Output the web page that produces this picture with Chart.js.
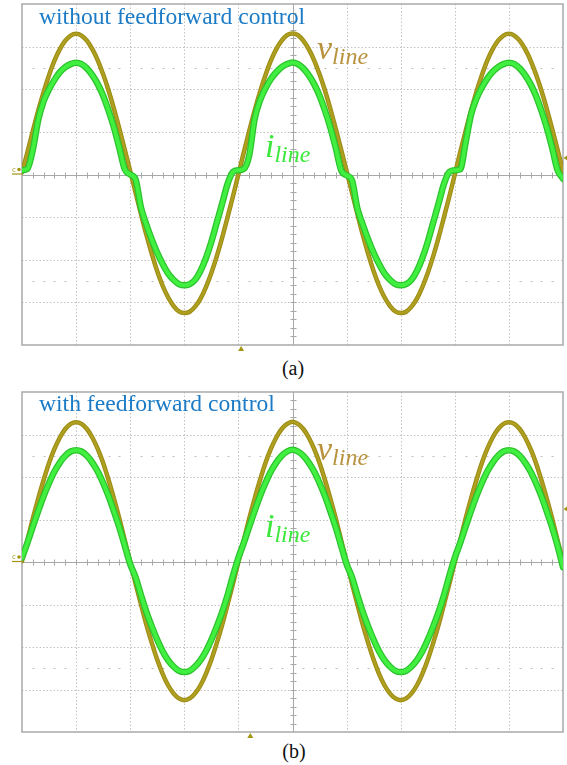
<!DOCTYPE html>
<html>
<head>
<meta charset="utf-8">
<script src="https://cdn.jsdelivr.net/npm/chart.js@4.4.0/dist/chart.umd.min.js"></script>
<style>
  html, body { margin: 0; padding: 0; background: #fff; }
  body { width: 567px; height: 765px; position: relative; overflow: hidden; font-family: 'Liberation Serif', 'Times New Roman', serif; }
  .panel { position: absolute; left: 0; width: 567px; height: 352px; }
  .title { position: absolute; font-family: 'Liberation Serif', serif; font-size: 23.6px; line-height: 1; color: #1b7bc6; white-space: nowrap; }
  .sym { position: absolute; font-family: 'Liberation Serif', serif; font-style: italic; font-size: 34px; line-height: 1; white-space: nowrap; }
  .sym span { font-size: 24px; position: relative; top: 5px; }
  .vsym { color: #b8923c; }
  .isym { color: #3be83b; }
  .cap { position: absolute; font-family: 'Liberation Serif', serif; width: 60px; text-align: center; font-size: 20px; line-height: 1; color: #111; }
</style>
</head>
<body>
<div class="panel" style="top:0"><canvas id="scopeA" width="567" height="352"></canvas></div>
<div class="panel" style="top:388px"><canvas id="scopeB" width="567" height="352"></canvas></div>

<div class="title" style="left:39px; top:5.3px">without feedforward control</div>
<div class="sym vsym" style="left:317px; top:30.5px">v<span>line</span></div>
<div class="sym isym" style="left:265px; top:128.5px">i<span>line</span></div>
<div class="cap" style="left:263px; top:358.3px">(a)</div>

<div class="title" style="left:39px; top:392.3px">with feedforward control</div>
<div class="sym vsym" style="left:317px; top:431.5px">v<span>line</span></div>
<div class="sym isym" style="left:265px; top:508.5px">i<span>line</span></div>
<div class="cap" style="left:264px; top:741.3px">(b)</div>

<script>
// Time base: horizontal divisions (10 div across the screen), one sample every 0.1 div
const TIME_DIV = [
  0, 0.1, 0.2, 0.3, 0.4, 0.5, 0.6, 0.7, 0.8, 0.9,
  1, 1.1, 1.2, 1.3, 1.4, 1.5, 1.6, 1.7, 1.8, 1.9,
  2, 2.1, 2.2, 2.3, 2.4, 2.5, 2.6, 2.7, 2.8, 2.9,
  3, 3.1, 3.2, 3.3, 3.4, 3.5, 3.6, 3.7, 3.8, 3.9,
  4, 4.1, 4.2, 4.3, 4.4, 4.5, 4.6, 4.7, 4.8, 4.9,
  5, 5.1, 5.2, 5.3, 5.4, 5.5, 5.6, 5.7, 5.8, 5.9,
  6, 6.1, 6.2, 6.3, 6.4, 6.5, 6.6, 6.7, 6.8, 6.9,
  7, 7.1, 7.2, 7.3, 7.4, 7.5, 7.6, 7.7, 7.8, 7.9,
  8, 8.1, 8.2, 8.3, 8.4, 8.5, 8.6, 8.7, 8.8, 8.9,
  9, 9.1, 9.2, 9.3, 9.4, 9.5, 9.6, 9.7, 9.8, 9.9,
  10
];

// (a) without feedforward: line voltage, in vertical divisions
const V_LINE_A = [
  0.05, 0.52, 1.02, 1.50, 1.94, 2.33, 2.67, 2.94, 3.14, 3.26,
  3.30, 3.26, 3.14, 2.94, 2.68, 2.35, 1.97, 1.54, 1.07, 0.58,
  0.08, -0.43, -0.93, -1.42, -1.87, -2.27, -2.61, -2.88, -3.08, -3.21,
  -3.25, -3.22, -3.10, -2.91, -2.64, -2.31, -1.92, -1.48, -1.00, -0.51,
  0.00, 0.52, 1.02, 1.50, 1.94, 2.33, 2.67, 2.94, 3.14, 3.27,
  3.31, 3.27, 3.14, 2.94, 2.68, 2.35, 1.97, 1.54, 1.07, 0.58,
  0.08, -0.43, -0.93, -1.42, -1.87, -2.27, -2.61, -2.88, -3.08, -3.21,
  -3.25, -3.22, -3.10, -2.91, -2.64, -2.31, -1.92, -1.48, -1.00, -0.51,
  0.00, 0.52, 1.02, 1.50, 1.94, 2.33, 2.67, 2.94, 3.14, 3.26,
  3.30, 3.26, 3.14, 2.94, 2.68, 2.35, 1.97, 1.54, 1.07, 0.58,
  0.08
];

// (a) without feedforward: line current, with the flat spots around each zero crossing
const I_LINE_A = [
  0.10, 0.13, 0.58, 1.28, 1.72, 2.00, 2.22, 2.40, 2.52, 2.59,
  2.62, 2.59, 2.49, 2.33, 2.12, 1.85, 1.50, 1.10, 0.62, 0.12,
  0.00, -0.12, -0.78, -1.18, -1.53, -1.84, -2.10, -2.32, -2.47, -2.57,
  -2.60, -2.57, -2.47, -2.26, -1.96, -1.58, -1.13, -0.68, -0.22, 0.06,
  0.10, 0.13, 0.45, 1.30, 1.74, 2.02, 2.24, 2.40, 2.52, 2.59,
  2.63, 2.59, 2.49, 2.33, 2.12, 1.85, 1.50, 1.10, 0.62, 0.10,
  -0.02, -0.14, -0.80, -1.18, -1.53, -1.84, -2.10, -2.32, -2.47, -2.57,
  -2.60, -2.57, -2.47, -2.26, -1.96, -1.58, -1.13, -0.68, -0.22, 0.06,
  0.10, 0.12, 0.75, 1.40, 1.78, 2.04, 2.25, 2.41, 2.52, 2.59,
  2.62, 2.59, 2.49, 2.33, 2.12, 1.85, 1.50, 1.10, 0.62, 0.10,
  -0.10
];

// (b) with feedforward: line voltage
const V_LINE_B = [
  0.02, 0.51, 1.02, 1.49, 1.93, 2.33, 2.66, 2.93, 3.13, 3.25,
  3.29, 3.25, 3.13, 2.93, 2.66, 2.33, 1.93, 1.49, 1.02, 0.51,
  0.00, -0.51, -1.00, -1.48, -1.91, -2.30, -2.63, -2.90, -3.09, -3.21,
  -3.25, -3.21, -3.09, -2.90, -2.63, -2.30, -1.91, -1.48, -1.00, -0.51,
  0.00, 0.51, 1.02, 1.49, 1.93, 2.33, 2.66, 2.93, 3.13, 3.25,
  3.30, 3.25, 3.13, 2.93, 2.66, 2.33, 1.93, 1.49, 1.02, 0.51,
  0.00, -0.51, -1.00, -1.48, -1.91, -2.30, -2.63, -2.90, -3.09, -3.21,
  -3.25, -3.21, -3.09, -2.90, -2.63, -2.30, -1.91, -1.48, -1.00, -0.51,
  0.00, 0.51, 1.02, 1.49, 1.93, 2.33, 2.66, 2.93, 3.13, 3.25,
  3.29, 3.25, 3.13, 2.93, 2.66, 2.33, 1.93, 1.49, 1.02, 0.51,
  0.02
];

// (b) with feedforward: line current
const I_LINE_B = [
  0.10, 0.45, 0.83, 1.20, 1.55, 1.86, 2.13, 2.34, 2.50, 2.60,
  2.63, 2.60, 2.50, 2.34, 2.13, 1.86, 1.55, 1.19, 0.81, 0.38,
  -0.05, -0.36, -0.78, -1.18, -1.52, -1.83, -2.10, -2.31, -2.46, -2.56,
  -2.59, -2.56, -2.46, -2.31, -2.10, -1.83, -1.52, -1.18, -0.78, -0.32,
  0.10, 0.45, 0.83, 1.20, 1.55, 1.86, 2.13, 2.34, 2.50, 2.60,
  2.64, 2.60, 2.50, 2.34, 2.13, 1.86, 1.55, 1.19, 0.81, 0.38,
  -0.05, -0.36, -0.78, -1.18, -1.52, -1.83, -2.10, -2.31, -2.46, -2.56,
  -2.59, -2.56, -2.46, -2.31, -2.10, -1.83, -1.52, -1.18, -0.78, -0.32,
  0.10, 0.45, 0.83, 1.20, 1.55, 1.86, 2.13, 2.34, 2.50, 2.60,
  2.63, 2.60, 2.50, 2.34, 2.13, 1.86, 1.55, 1.19, 0.81, 0.38,
  -0.12
];

// Screen graticule: division lines and the two cursor levels
const X_DIVISIONS = [1, 2, 3, 4, 6, 7, 8, 9];
const Y_DIVISIONS = [-3, -2, -1, 1, 2, 3];
const CURSOR_LEVELS = [2.5, -2.5];

// Trigger settings per screen: horizontal position and level, in divisions
const TRIGGER_A = { pos: 4.05, level: 0.39 };
const TRIGGER_B = { pos: 4.22, level: 1.25 };

const VOLT_EDGE = '#9a8a12';
const VOLT_CORE = '#ae9f20';
const AMP_EDGE = '#2cc22c';
const AMP_CORE = '#40ef40';
const MARK = '#a39512';

const graticule = {
  id: 'graticule',
  beforeDatasetsDraw(chart) {
    const { ctx, chartArea: a, scales: { x, y } } = chart;
    const px = v => Math.round(x.getPixelForValue(v)) + 0.5;
    const py = v => Math.round(y.getPixelForValue(v)) + 0.5;
    ctx.save();
    ctx.lineWidth = 1;

    // dotted division lines
    ctx.strokeStyle = '#c2c2c2';
    ctx.setLineDash([1.5, 2]);
    ctx.beginPath();
    X_DIVISIONS.forEach(d => { ctx.moveTo(px(d), a.top); ctx.lineTo(px(d), a.bottom); });
    Y_DIVISIONS.forEach(d => { ctx.moveTo(a.left, py(d)); ctx.lineTo(a.right, py(d)); });
    ctx.stroke();

    // sparse dotted cursor lines
    ctx.setLineDash([]);
    ctx.fillStyle = '#bdbdbd';
    CURSOR_LEVELS.forEach(lv => {
      for (let k = 1; k < 50; k++) {
        if (k % 5 === 0) continue;
        ctx.fillRect(px(k * 0.2) - 1, py(lv) - 0.5, 2, 1);
      }
    });

    // centre axes with minor ticks
    ctx.strokeStyle = '#a8a8a8';
    ctx.beginPath();
    ctx.moveTo(a.left, py(0)); ctx.lineTo(a.right, py(0));
    ctx.moveTo(px(5), a.top); ctx.lineTo(px(5), a.bottom);
    for (let k = 1; k < 50; k++) {
      const tx = px(k * 0.2);
      ctx.moveTo(tx, py(0) - 3); ctx.lineTo(tx, py(0) + 3);
    }
    for (let k = -19; k < 20; k++) {
      const ty = py(k * 0.2);
      ctx.moveTo(px(5) - 3, ty); ctx.lineTo(px(5) + 3, ty);
    }
    ctx.stroke();

    // screen frame
    ctx.strokeStyle = '#a9a9a9';
    ctx.lineWidth = 1.5;
    ctx.strokeRect(a.left, a.top, a.right - a.left, a.bottom - a.top);
    ctx.restore();
  },
  afterDraw(chart, args, opts) {
    const { ctx, chartArea: a, scales: { x, y } } = chart;
    ctx.save();
    ctx.fillStyle = MARK;
    ctx.strokeStyle = MARK;
    // trigger position marker under the frame
    const tx = x.getPixelForValue(opts.pos);
    ctx.beginPath();
    ctx.moveTo(tx, a.bottom + 1);
    ctx.lineTo(tx - 3, a.bottom + 6);
    ctx.lineTo(tx + 3, a.bottom + 6);
    ctx.closePath();
    ctx.fill();
    // trigger level marker at the right edge
    const ty = y.getPixelForValue(opts.level);
    ctx.beginPath();
    ctx.moveTo(a.right + 0.5, ty);
    ctx.lineTo(a.right + 5, ty - 3);
    ctx.lineTo(a.right + 5, ty + 3);
    ctx.closePath();
    ctx.fill();
    // channel ground reference at the left edge
    const gy = y.getPixelForValue(0);
    ctx.lineWidth = 1.2;
    ctx.beginPath();
    ctx.moveTo(a.left - 10, gy - 0.5);
    ctx.lineTo(a.left, gy - 0.5);
    ctx.stroke();
    ctx.font = '7px "DejaVu Sans"';
    ctx.textBaseline = 'alphabetic';
    ctx.fillText('c', a.left - 10, gy - 3);
    ctx.beginPath();
    ctx.arc(a.left - 3, gy - 5, 1.8, 0, Math.PI * 2);
    ctx.fill();
    ctx.restore();
  }
};

function trace(values, color, width, order) {
  return {
    data: TIME_DIV.map((t, i) => ({ x: t, y: values[i] })),
    borderColor: color,
    borderWidth: width,
    pointRadius: 0,
    fill: false,
    cubicInterpolationMode: 'monotone',
    borderCapStyle: 'round',
    borderJoinStyle: 'round',
    order
  };
}

function makeScope(id, volts, amps, trigger, pad) {
  return new Chart(document.getElementById(id), {
    type: 'line',
    data: {
      datasets: [
        trace(amps, AMP_CORE, 4, 0),
        trace(amps, AMP_EDGE, 6.5, 1),
        trace(volts, VOLT_CORE, 2.6, 2),
        trace(volts, VOLT_EDGE, 4.5, 3)
      ]
    },
    options: {
      responsive: false,
      animation: false,
      devicePixelRatio: 1,
      layout: { padding: pad },
      scales: {
        x: { type: 'linear', min: 0, max: 10, display: false },
        y: { type: 'linear', min: -4, max: 4, display: false }
      },
      plugins: {
        legend: { display: false },
        tooltip: { enabled: false },
        graticule: trigger
      }
    },
    plugins: [graticule]
  });
}

makeScope('scopeA', V_LINE_A, I_LINE_A, TRIGGER_A, { left: 22, right: 4, top: 4, bottom: 7 });
makeScope('scopeB', V_LINE_B, I_LINE_B, TRIGGER_B, { left: 22, right: 4, top: 4, bottom: 8 });
</script>
</body>
</html>
